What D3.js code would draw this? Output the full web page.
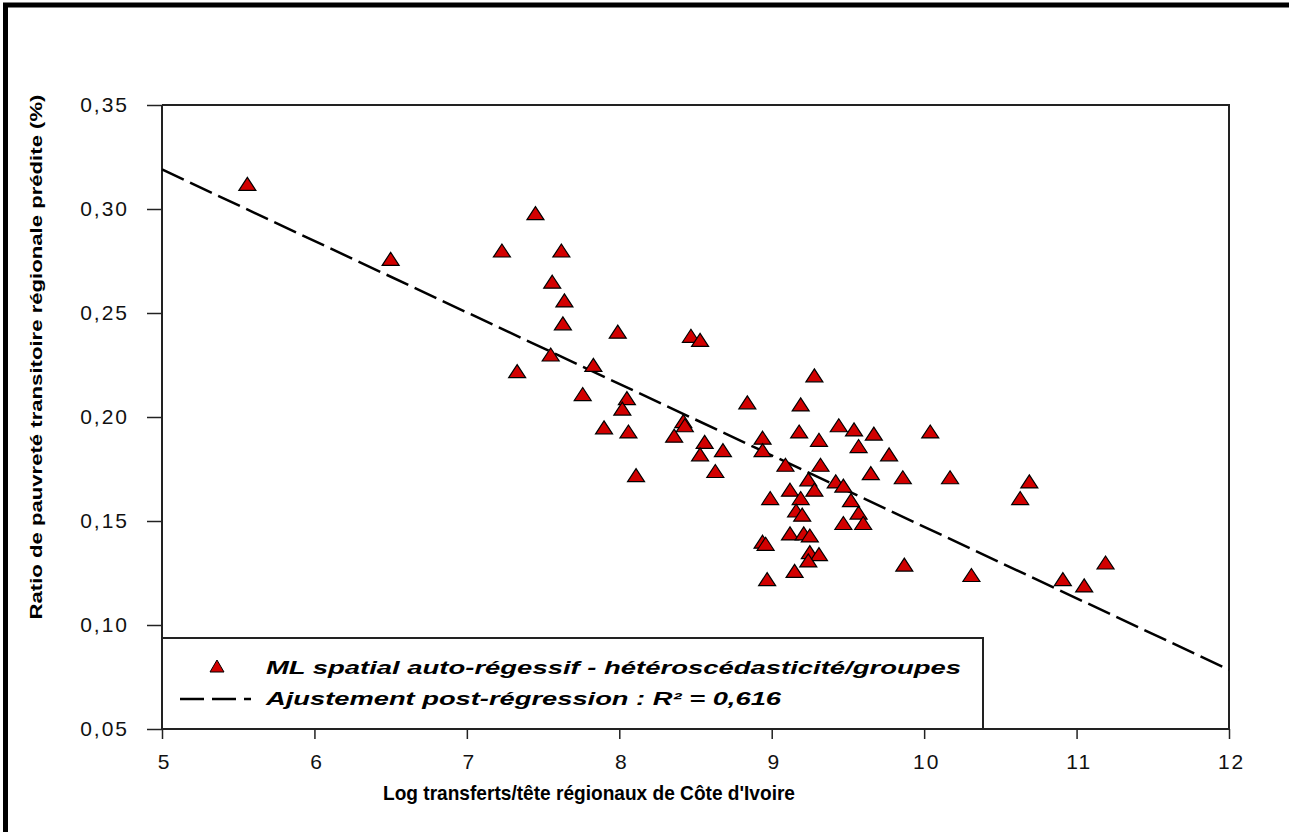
<!DOCTYPE html>
<html>
<head>
<meta charset="utf-8">
<script src="https://cdn.jsdelivr.net/npm/d3@7"></script>
<style>
  body { margin: 0; background: #fff; }
  svg { display: block; }
  .axis-title { font-family: "Liberation Sans Narrow", "Liberation Sans", Arial, sans-serif; font-weight: bold; fill: #000; }
  .legend-text { font-family: "Liberation Sans Narrow", "Liberation Sans", Arial, sans-serif; font-weight: bold; font-style: italic; font-size: 18px; fill: #000; }
</style>
</head>
<body>
<div id="graphic"></div>
<script>
  var width = 1289;
  var height = 832;

  // values
  var xValues = [5.56, 6.50, 7.45, 7.23, 7.62, 7.56, 7.64, 7.63, 7.99, 7.55, 7.33, 7.83, 7.76, 8.05, 8.02,
    8.47, 8.53, 9.28, 8.84, 9.19, 7.90, 8.06, 8.42, 8.43, 8.36, 8.94, 9.18, 8.56, 8.68, 8.53,
    8.94, 9.31, 9.44, 9.54, 9.67, 10.04, 9.57, 9.77, 8.11, 8.63, 9.09, 9.32, 9.65, 9.86, 10.17,
    9.24, 9.12, 9.28, 9.42, 9.47, 8.99, 9.19, 9.52, 9.16, 9.20, 9.57, 9.47, 9.60, 8.94, 8.96,
    9.12, 9.21, 9.25, 9.25, 9.31, 9.24, 9.15, 8.97, 9.87, 10.31, 10.69, 10.63, 10.91, 11.05, 11.19];
  var yValues = [0.311, 0.275, 0.297, 0.279, 0.279, 0.264, 0.255, 0.244, 0.240, 0.229, 0.221, 0.224, 0.210, 0.208, 0.203,
    0.238, 0.236, 0.219, 0.206, 0.205, 0.194, 0.192, 0.197, 0.195, 0.190, 0.189, 0.192, 0.187, 0.183, 0.181,
    0.183, 0.188, 0.195, 0.193, 0.191, 0.192, 0.185, 0.181, 0.171, 0.173, 0.176, 0.176, 0.172, 0.170, 0.170,
    0.169, 0.164, 0.164, 0.168, 0.166, 0.160, 0.160, 0.159, 0.154, 0.152, 0.153, 0.148, 0.148, 0.139, 0.138,
    0.143, 0.143, 0.142, 0.134, 0.133, 0.130, 0.125, 0.121, 0.128, 0.123, 0.168, 0.160, 0.121, 0.118, 0.129];

  var fitX = [5, 12];
  var fitY = [0.319, 0.0785];

  var xTicks = [5, 6, 7, 8, 9, 10, 11, 12];
  var yTicks = [0.05, 0.10, 0.15, 0.20, 0.25, 0.30, 0.35];

  var legendLabels = ["ML spatial auto-régessif - hétéroscédasticité/groupes",
    "Ajustement post-régression : R² = 0,616"];
  var xTitle = "Log transferts/tête régionaux de Côte d'Ivoire";
  var yTitle = "Ratio de pauvreté transitoire régionale prédite (%)";

  var plotLeft = 162, plotRight = 1229, plotTop = 105, plotBottom = 729;

  var xScale = d3.scaleLinear().domain([5, 12]).range([plotLeft, plotRight]);
  var yScale = d3.scaleLinear().domain([0.05, 0.35]).range([plotBottom, plotTop]);

  var fmt = function(d) { return d3.format(".2f")(d).replace(".", ","); };

  // triangle marker, apex up, wider than tall
  function triangle(w, h) {
    return {
      draw: function(ctx) {
        ctx.moveTo(0, -h * 2 / 3);
        ctx.lineTo(w / 2, h / 3);
        ctx.lineTo(-w / 2, h / 3);
        ctx.closePath();
      }
    };
  }

  var svg = d3.select("#graphic").append("svg")
    .attr("width", width)
    .attr("height", height);

  // outer frame (top and left only)
  svg.append("path")
    .attr("d", "M5.5," + height + "V5H" + width)
    .attr("fill", "none")
    .attr("stroke", "#000")
    .attr("stroke-width", 5);

  // plot frame top/right
  svg.append("path")
    .attr("d", "M" + plotLeft + "," + plotTop + "H" + plotRight + "V" + plotBottom)
    .attr("fill", "none")
    .attr("stroke", "#222")
    .attr("stroke-width", 2);

  // legend box
  svg.append("rect")
    .attr("x", plotLeft)
    .attr("y", 638)
    .attr("width", 983 - plotLeft)
    .attr("height", plotBottom - 638)
    .attr("fill", "#fff")
    .attr("stroke", "#222")
    .attr("stroke-width", 2);

  var xAxis = d3.axisBottom(xScale).tickValues(xTicks).tickSize(10).tickPadding(15).tickFormat(d3.format("d"));
  var yAxis = d3.axisLeft(yScale).tickValues(yTicks).tickSize(15).tickPadding(18).tickFormat(fmt);

  var gx = svg.append("g")
    .attr("transform", "translate(0," + plotBottom + ")")
    .call(xAxis);
  var gy = svg.append("g")
    .attr("transform", "translate(" + plotLeft + ",0)")
    .call(yAxis);

  [gx, gy].forEach(function(g) {
    g.attr("font-size", 21).attr("font-family", "'Liberation Sans Narrow', 'Liberation Sans', Arial, sans-serif");
    g.select(".domain").attr("stroke", "#222").attr("stroke-width", 2);
    g.selectAll(".tick line").attr("stroke", "#222").attr("stroke-width", 1.5);
    g.selectAll(".tick text").attr("fill", "#111").style("letter-spacing", "2px");
  });
  gy.select(".domain").attr("d", "M0," + plotTop + "V" + plotBottom);
  gx.select(".domain").attr("d", "M" + plotLeft + ",0H" + plotRight);
  gx.selectAll(".tick text").attr("dx", "0.1em");

  // fitted line
  var fit = fitX.map(function(x, i) { return [x, fitY[i]]; });
  svg.append("path")
    .datum(fit)
    .attr("fill", "none")
    .attr("stroke", "#000")
    .attr("stroke-width", 2.5)
    .attr("stroke-dasharray", "24,7")
    .attr("d", d3.line()
      .x(function(d) { return xScale(d[0]); })
      .y(function(d) { return yScale(d[1]); }));

  // points
  var points = xValues.map(function(x, i) { return [x, yValues[i]]; });
  svg.append("g").selectAll("path")
    .data(points)
    .enter().append("path")
    .attr("transform", function(d) { return "translate(" + xScale(d[0]) + "," + yScale(d[1]) + ")"; })
    .attr("d", d3.symbol().type(triangle(17, 13)))
    .attr("fill", "#d20000")
    .attr("stroke", "#000")
    .attr("stroke-width", 1.2);

  // legend
  svg.append("path")
    .attr("transform", "translate(217,668)")
    .attr("d", d3.symbol().type(triangle(14, 12)))
    .attr("fill", "#d20000")
    .attr("stroke", "#000")
    .attr("stroke-width", 1);

  svg.append("line")
    .attr("x1", 180).attr("x2", 251)
    .attr("y1", 699).attr("y2", 699)
    .attr("stroke", "#000")
    .attr("stroke-width", 2.5)
    .attr("stroke-dasharray", "24,8");

  svg.append("text")
    .attr("class", "legend-text")
    .attr("x", 266).attr("y", 674)
    .attr("textLength", 695)
    .attr("lengthAdjust", "spacingAndGlyphs")
    .text(legendLabels[0]);

  svg.append("text")
    .attr("class", "legend-text")
    .attr("x", 266).attr("y", 705)
    .attr("textLength", 515)
    .attr("lengthAdjust", "spacingAndGlyphs")
    .text(legendLabels[1]);

  // axis titles
  svg.append("text")
    .attr("class", "axis-title")
    .attr("x", 383).attr("y", 800)
    .attr("font-size", 21)
    .attr("textLength", 412)
    .attr("lengthAdjust", "spacingAndGlyphs")
    .text(xTitle);

  svg.append("text")
    .attr("class", "axis-title")
    .attr("transform", "translate(42,357) rotate(-90)")
    .attr("text-anchor", "middle")
    .attr("font-size", 17)
    .attr("textLength", 525)
    .attr("lengthAdjust", "spacingAndGlyphs")
    .text(yTitle);
</script>
</body>
</html>
